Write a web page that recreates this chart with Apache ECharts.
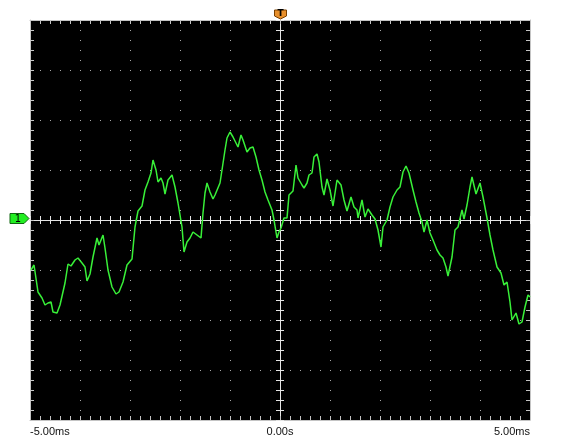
<!DOCTYPE html>
<html>
<head>
<meta charset="utf-8">
<script src="https://cdn.jsdelivr.net/npm/echarts@6/dist/echarts.min.js"></script>
<style>
html,body{margin:0;padding:0;background:#fff;}
#chart{width:561px;height:441px;}
</style>
</head>
<body>
<div id="chart"></div>
<script>
// time in ms (10 divisions, 1 ms/div), amplitude in divisions
var timeMs = [-4.98,-4.92,-4.88,-4.84,-4.76,-4.70,-4.64,-4.58,-4.54,-4.46,-4.40,-4.36,-4.30,-4.24,-4.18,-4.10,-4.04,-3.96,-3.90,-3.86,-3.80,-3.74,-3.66,-3.62,-3.54,-3.50,-3.44,-3.36,-3.28,-3.22,-3.14,-3.06,-2.96,-2.90,-2.84,-2.76,-2.70,-2.64,-2.58,-2.54,-2.48,-2.44,-2.38,-2.34,-2.30,-2.24,-2.16,-2.10,-2.04,-1.96,-1.92,-1.86,-1.80,-1.74,-1.66,-1.58,-1.54,-1.50,-1.46,-1.40,-1.34,-1.30,-1.26,-1.20,-1.16,-1.10,-1.06,-1.00,-0.94,-0.90,-0.84,-0.78,-0.74,-0.66,-0.60,-0.54,-0.48,-0.42,-0.36,-0.30,-0.24,-0.16,-0.12,-0.06,-0.02,0.02,0.08,0.14,0.18,0.26,0.32,0.36,0.44,0.48,0.54,0.58,0.64,0.68,0.74,0.78,0.84,0.88,0.94,1.00,1.06,1.14,1.22,1.28,1.34,1.42,1.48,1.54,1.56,1.64,1.70,1.76,1.84,1.90,1.96,2.02,2.06,2.14,2.20,2.26,2.34,2.40,2.46,2.52,2.58,2.66,2.72,2.78,2.84,2.88,2.94,3.00,3.06,3.14,3.20,3.26,3.32,3.36,3.44,3.50,3.56,3.64,3.68,3.74,3.80,3.84,3.92,4.00,4.06,4.14,4.20,4.26,4.34,4.42,4.48,4.54,4.60,4.64,4.72,4.78,4.84,4.90,4.96,5.00];
var signalDiv = [-1.00,-0.90,-0.94,-1.44,-1.56,-1.70,-1.66,-1.64,-1.84,-1.86,-1.70,-1.66,-1.26,-0.88,-0.92,-0.80,-0.76,-0.86,-0.94,-1.22,-1.08,-0.74,-0.36,-0.50,-0.30,-0.56,-1.00,-1.34,-1.48,-1.44,-1.24,-0.90,-0.78,-0.14,0.18,0.28,0.60,0.76,0.94,1.20,1.00,0.76,0.84,0.74,0.52,0.80,0.90,0.66,0.34,-0.14,-0.64,-0.44,-0.36,-0.24,-0.30,-0.36,0.14,0.54,0.74,0.56,0.42,0.50,0.54,0.74,1.00,1.40,1.64,1.76,1.66,1.70,1.46,1.70,1.60,1.36,1.44,1.46,1.26,1.00,0.80,0.56,0.40,0.20,0.00,-0.36,-0.24,-0.16,0.04,0.04,0.50,0.58,1.10,0.84,0.70,0.64,0.74,0.90,0.94,1.26,1.32,1.16,0.66,0.50,0.82,0.60,0.28,0.80,0.70,0.40,0.18,0.46,0.26,0.20,0.04,0.40,0.06,0.22,0.10,0.02,-0.20,-0.54,-0.14,0.00,0.26,0.46,0.60,0.66,0.96,1.08,0.94,0.60,0.36,0.14,-0.04,-0.24,0.00,-0.26,-0.40,-0.60,-0.70,-0.76,-0.94,-1.12,-0.74,-0.20,-0.14,0.20,0.02,0.30,0.66,0.86,0.52,0.74,0.46,0.04,-0.30,-0.60,-0.94,-1.06,-1.30,-1.24,-1.64,-2.00,-1.86,-2.08,-2.04,-1.74,-1.50,-1.54];
var xLabelValues = [-5, 0, 5];
var xLabelTexts = ['-5.00ms', '0.00s', '5.00ms'];
var channelLabel = '1';
var triggerLabel = 'T';

var BORDER = '#c4c4c4', CENTER = '#e4e4e4', DOT = '#a8a8a8', TRACE = '#38f038';

var chart = echarts.init(document.getElementById('chart'), null, {renderer: 'canvas'});

function borderX(pos, withLabels) {
  return {
    type: 'value', min: -5, max: 5, interval: 1, position: pos,
    axisLine: {show: true, onZero: false, lineStyle: {color: BORDER, width: 1}},
    axisTick: {show: true, inside: true, length: 4, lineStyle: {color: BORDER}},
    minorTick: {show: true, splitNumber: 5, length: 4, lineStyle: {color: BORDER}},
    axisLabel: withLabels ? {
      show: true, color: '#111', fontFamily: 'Liberation Sans', fontSize: 11, margin: 6,
      alignMinLabel: 'left', alignMaxLabel: 'right',
      formatter: function (v) { var i = xLabelValues.indexOf(Math.round(v * 1000) / 1000); return i >= 0 ? xLabelTexts[i] : ''; }
    } : {show: false},
    splitLine: withLabels ? {show: true, lineStyle: {color: DOT, width: 1, type: [1, 9], dashOffset: 0}} : {show: false},
    minorSplitLine: {show: false}
  };
}
function centerX(inside) {
  return {
    type: 'value', min: -5, max: 5, interval: 1, position: 'bottom',
    axisLine: {show: true, onZero: true, onZeroAxisIndex: 0, lineStyle: {color: CENTER, width: 1}},
    axisTick: {show: true, inside: inside, length: 4, lineStyle: {color: CENTER}},
    minorTick: {show: true, splitNumber: 5, length: 4, lineStyle: {color: CENTER}},
    axisLabel: {show: false}, splitLine: {show: false}
  };
}
function borderY(pos, withSplit) {
  return {
    type: 'value', min: -4, max: 4, interval: 1, position: pos,
    axisLine: {show: true, onZero: false, lineStyle: {color: BORDER, width: 1}},
    axisTick: {show: true, inside: true, length: 4, lineStyle: {color: BORDER}},
    minorTick: {show: true, splitNumber: 5, length: 4, lineStyle: {color: BORDER}},
    axisLabel: {show: false},
    splitLine: withSplit ? {show: true, lineStyle: {color: DOT, width: 1, type: [1, 9], dashOffset: 0}} : {show: false}
  };
}
function centerY(inside) {
  return {
    type: 'value', min: -4, max: 4, interval: 1, position: 'left',
    axisLine: {show: true, onZero: true, onZeroAxisIndex: 0, lineStyle: {color: CENTER, width: 1}},
    axisTick: {show: true, inside: inside, length: 4, lineStyle: {color: CENTER}},
    minorTick: {show: true, splitNumber: 5, length: 4, lineStyle: {color: CENTER}},
    axisLabel: {show: false}, splitLine: {show: false}
  };
}

var seriesData = timeMs.map(function (t, i) { return [t, signalDiv[i]]; });

chart.setOption({
  animation: false,
  backgroundColor: '#ffffff',
  grid: {left: 30, top: 20, width: 500, height: 400, show: true, backgroundColor: '#000000', borderWidth: 0, containLabel: false, outerBoundsMode: 'none'},
  xAxis: [borderX('bottom', true), borderX('top', false), centerX(true), centerX(false)],
  yAxis: [borderY('left', true), borderY('right', false), centerY(true), centerY(false)],
  series: [{
    type: 'line', xAxisIndex: 0, yAxisIndex: 0, data: seriesData,
    showSymbol: false, symbol: 'none', smooth: false, z: 5,
    lineStyle: {color: TRACE, width: 1.5}
  }]
});

var p0 = chart.convertToPixel({xAxisIndex: 0, yAxisIndex: 0}, [0, 0]);
var pTop = chart.convertToPixel({yAxisIndex: 0}, 4);
var pLeft = chart.convertToPixel({xAxisIndex: 0}, -5);
var cx = p0[0] + 0.5, cy = p0[1] - 1.5;
chart.setOption({
  graphic: [
    {type: 'polygon', shape: {points: [[cx - 6, pTop - 10], [cx + 6, pTop - 10], [cx + 6, pTop - 4], [cx, pTop - 1], [cx - 6, pTop - 4]]},
      style: {fill: '#e8902c', stroke: '#7a4000', lineWidth: 1}, z: 10},
    {type: 'text', x: cx, y: pTop - 6.5, style: {text: triggerLabel, fill: '#000', font: 'bold 9px "DejaVu Sans"', align: 'center', verticalAlign: 'middle'}, z: 11},
    {type: 'polygon', shape: {points: [[pLeft - 20, cy - 5], [pLeft - 6, cy - 5], [pLeft - 1, cy], [pLeft - 6, cy + 5], [pLeft - 20, cy + 5]]},
      style: {fill: '#22ee22', stroke: '#116611', lineWidth: 1}, z: 10},
    {type: 'text', x: pLeft - 12, y: cy + 0.5, style: {text: channelLabel, fill: '#000', font: '10px "DejaVu Sans"', align: 'center', verticalAlign: 'middle'}, z: 11}
  ]
});
</script>
</body>
</html>
